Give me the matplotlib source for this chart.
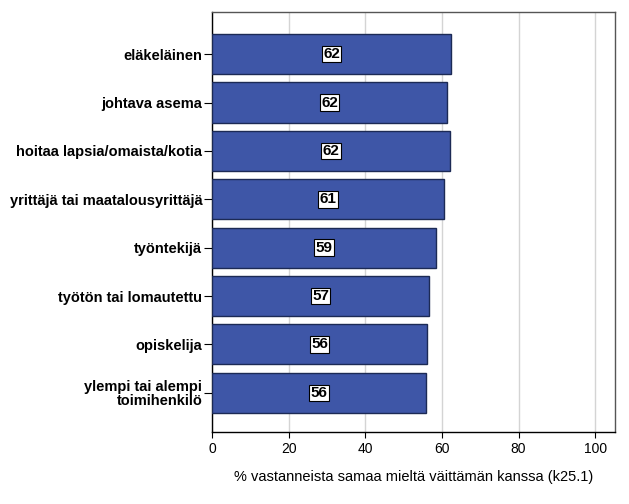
import matplotlib
matplotlib.use('Agg')
import matplotlib.pyplot as plt

categories = ['eläkeläinen', 'johtava asema', 'hoitaa lapsia/omaista/kotia',
              'yrittäjä tai maatalousyrittäjä', 'työntekijä',
              'työtön tai lomautettu', 'opiskelija',
              'ylempi tai alempi\ntoimihenkilö']
values = [62.4, 61.4, 62.1, 60.6, 58.5, 56.7, 56.1, 55.9]
labels = ['62', '62', '62', '61', '59', '57', '56', '56']
xticks = [0, 20, 40, 60, 80, 100]

BAR_COLOR = '#3e56a7'
EDGE_COLOR = '#1c2a55'

plt.rcParams['font.family'] = ['Liberation Sans', 'DejaVu Sans']

fig = plt.figure(figsize=(6.29, 5.04), dpi=100)
ax = fig.add_axes([0.337, 0.143, 0.641, 0.833])

pos = list(range(len(categories)))
ax.barh(pos, values, height=0.83, color=BAR_COLOR, edgecolor=EDGE_COLOR,
        linewidth=1.0, zorder=3)

# value labels in small white boxes at the middle of each bar
for p, v, lab in zip(pos, values, labels):
    ax.text(v / 2, p, lab, ha='center', va='center', fontsize=11,
            fontweight='bold', color='black', zorder=4,
            bbox=dict(boxstyle='square,pad=0.08', facecolor='white',
                      edgecolor='black', linewidth=0.8))

ax.set_yticks(pos)
ax.set_yticklabels(categories, fontsize=10.5, fontweight='bold',
                   linespacing=0.95)
ax.set_ylim(7.81, -0.87)
ax.set_xlim(0, 105.2)
ax.set_xticks(xticks)
ax.tick_params(axis='x', labelsize=10, length=4, color='black')
ax.tick_params(axis='y', length=6, color='black', pad=1)

ax.grid(axis='x', color='#d4d4d4', linewidth=1.0, zorder=0)
ax.set_axisbelow(True)

for sp in ['left', 'bottom']:
    ax.spines[sp].set_color('black')
    ax.spines[sp].set_linewidth(1.0)
for sp in ['top', 'right']:
    ax.spines[sp].set_color('#555555')
    ax.spines[sp].set_linewidth(1.0)

ax.set_xlabel('% vastanneista samaa mieltä väittämän kanssa (k25.1)',
              fontsize=10.5, labelpad=10)

fig.savefig('out.png', dpi=100)
